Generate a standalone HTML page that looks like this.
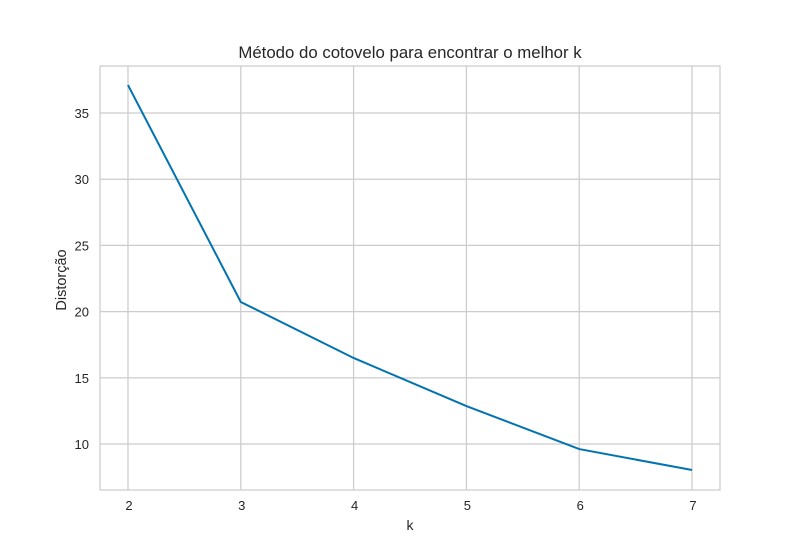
<!DOCTYPE html>
<html><head><meta charset="utf-8"><style>
body{margin:0;background:#fff;}
svg{display:block;font-family:"Liberation Sans","DejaVu Sans",sans-serif;}
</style></head><body>
<svg id="chart" width="800" height="550">
<rect width="800" height="550" fill="#fff"/>
<g id="grid"></g>
<rect x="100" y="66" width="620" height="424" fill="none" stroke="#cccccc" stroke-width="1.25"/>
<g id="ticks"></g>
<path id="line" fill="none" stroke="#0173b2" stroke-width="2"/>
<text x="410" y="58" text-anchor="middle" font-size="16.8" fill="#262626">Método do cotovelo para encontrar o melhor k</text>
<text x="410" y="530" text-anchor="middle" font-size="14" fill="#262626">k</text>
<text transform="translate(66,280) rotate(-90)" text-anchor="middle" font-size="14.5" fill="#262626">Distorção</text>
</svg>
<script>
const ks = [2,3,4,5,6,7];
const distortion = [37.11,20.73,16.5,12.87,9.62,8.04];
const xTicks = [2,3,4,5,6,7];
const yTicks = [10,15,20,25,30,35];
const X0=100,X1=720,Y0=490,Y1=66;
const xMin=1.752,xMax=7.248,yMin=6.53,yMax=38.55;
const sx=v=>X0+(v-xMin)/(xMax-xMin)*(X1-X0);
const sy=v=>Y0-(v-yMin)/(yMax-yMin)*(Y0-Y1);
const NS="http://www.w3.org/2000/svg";
const grid=document.getElementById('grid'),ticks=document.getElementById('ticks');
function mk(t,a,p){const e=document.createElementNS(NS,t);for(const k in a)e.setAttribute(k,a[k]);p.appendChild(e);return e;}
xTicks.forEach(v=>{
 const l=mk('line',{x1:sx(v),x2:sx(v),y1:Y1,y2:Y0,stroke:'#cccccc','stroke-width':1.25},grid);
 
 
 const t=mk('text',{x:sx(v)+1,y:510,'text-anchor':'middle','font-size':13,fill:'#262626'},ticks);
 t.textContent=v;
 
 
});
yTicks.forEach(v=>{
 const l=mk('line',{x1:X0,x2:X1,y1:sy(v),y2:sy(v),stroke:'#cccccc','stroke-width':1.25},grid);
 
 
 const t=mk('text',{x:89,y:sy(v)+5,'text-anchor':'end','font-size':13,fill:'#262626'},ticks);
 t.textContent=v;
 
 
});
document.getElementById('line').setAttribute('d',ks.map((k,i)=>(i?'L':'M')+sx(k)+','+sy(distortion[i])).join(''));
</script>
</body></html>
